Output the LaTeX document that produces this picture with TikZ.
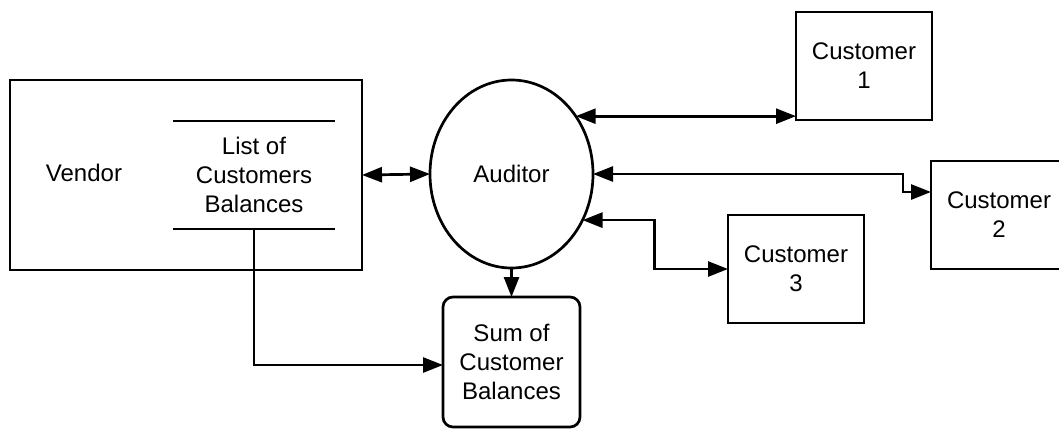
\documentclass[tikz,border=0pt]{standalone}
\usepackage{fontspec}
\setmainfont{Liberation Sans}
\usetikzlibrary{shapes.geometric,arrows.meta,calc}
\begin{document}
\begin{tikzpicture}[x=1pt,y=-1pt,
  line width=2.7pt,
  every node/.style={font=\fontsize{24}{29}\selectfont, align=center, inner sep=0pt, outer sep=0pt},
  box/.style={draw, rectangle, minimum width=136, minimum height=108},
  flow/.style={-{Triangle[length=20pt,width=15pt]}},
  biflow/.style={{Triangle[length=20pt,width=15pt]}-{Triangle[length=20pt,width=15pt]}}]
\useasboundingbox (0,0) rectangle (1059,429);

% vendor process with its data store
\node[draw, rectangle, minimum width=352, minimum height=190] (vendor) at (186,175) {};
\node (vlabel) at (84,173) {Vendor};
\node[minimum width=162, minimum height=108] (list) at (254,175) {List of\\Customers\\Balances};
\draw (list.north west) -- (list.north east);
\draw (list.south west) -- (list.south east);

% auditor
\node[draw, ellipse, minimum width=163, minimum height=188] (aud) at (511.5,174) {Auditor};

% customers
\node[box] (c1) at (864,66) {Customer\\1};
\node[box] (c2) at (999,215) {Customer\\2};
\node[box] (c3) at (796,269) {Customer\\3};

% result
\node[draw, rounded corners=10pt, minimum width=137, minimum height=130] (sum) at (511.5,362) {Sum of\\Customer\\Balances};

% flows
\draw[biflow] (vendor.east) -- (aud.west);
\draw[biflow] (aud.42.3) -- (aud.42.3 -| c1.west);
\draw[biflow] (aud.east) -- (903,174) -- (903,192) -- ([yshift=23pt]c2.west);
\draw[biflow] (aud.-33.1) -- ++(72,0) |- (c3.west);
\draw[flow] (aud.south) -- (sum.north);
\draw[flow] (list.south) |- ([yshift=-3pt]sum.west);
\end{tikzpicture}
\end{document}
